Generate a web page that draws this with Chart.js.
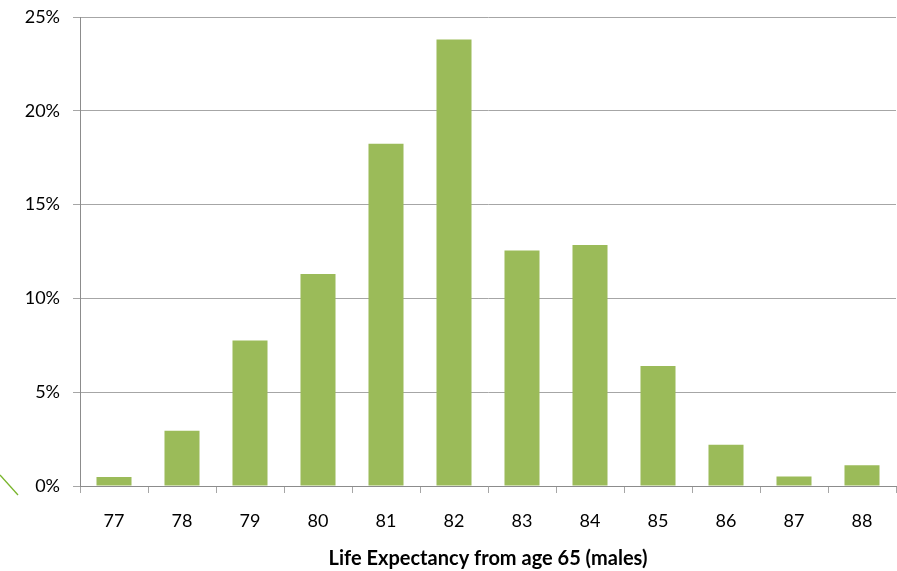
<!DOCTYPE html>
<html>
<head>
<meta charset="utf-8">
<script src="https://cdn.jsdelivr.net/npm/chart.js@4/dist/chart.umd.min.js"></script>
<style>
  html, body { margin: 0; padding: 0; background: #ffffff; }
  #wrap { width: 897px; height: 571px; position: relative; }
</style>
</head>
<body>
<div id="wrap"><canvas id="c" width="897" height="571"></canvas></div>
<script>
// Distribution of male life expectancy from age 65 (share of population, %)
const ages = ['77', '78', '79', '80', '81', '82', '83', '84', '85', '86', '87', '88'];
const shares = [0.48, 2.95, 7.75, 11.3, 18.25, 23.8, 12.55, 12.85, 6.4, 2.2, 0.5, 1.1];
const yTicks = [0, 5, 10, 15, 20, 25];
const xTitle = 'Life Expectancy from age 65 (males)';

const FONT = 'Lato, "Open Sans", "Liberation Sans", sans-serif';
const GRID = '#a6a6a6';

// Small green stroke at the lower-left edge of the canvas
const cornerStroke = {
  id: 'cornerStroke',
  afterDraw(chart) {
    const ctx = chart.ctx;
    ctx.save();
    ctx.strokeStyle = '#79b52c';
    ctx.lineWidth = 1.3;
    ctx.beginPath();
    ctx.moveTo(0, 475);
    ctx.lineTo(18, 495);
    ctx.stroke();
    ctx.restore();
  }
};

new Chart(document.getElementById('c'), {
  type: 'bar',
  data: {
    labels: ages,
    datasets: [{
      data: shares,
      backgroundColor: '#9bbb59',
      borderWidth: 0,
      barPercentage: 0.515,
      categoryPercentage: 1.0
    }]
  },
  options: {
    responsive: false,
    animation: false,
    devicePixelRatio: 1,
    layout: { autoPadding: false, padding: { top: 17, right: 1, left: 0, bottom: 0 } },
    plugins: {
      legend: { display: false },
      tooltip: { enabled: false }
    },
    scales: {
      x: {
        offset: true,
        grid: {
          offset: true,
          drawOnChartArea: false,
          drawTicks: true,
          tickLength: 7,
          color: GRID
        },
        border: { display: true, color: '#8c8c8c', width: 1 },
        ticks: {
          color: '#000000',
          font: { family: FONT, size: 18 },
          padding: 17,
          maxRotation: 0
        },
        title: {
          display: true,
          text: xTitle,
          color: '#000000',
          font: { family: FONT, size: 20, weight: 'bold' },
          padding: { top: 5, bottom: 0 }
        },
        afterFit(scale) {
          scale.height = 85;
          scale.paddingLeft = 0;
          scale.paddingRight = 0;
        }
      },
      y: {
        min: 0,
        max: 25,
        afterBuildTicks(scale) {
          scale.ticks = yTicks.map(v => ({ value: v }));
        },
        grid: {
          color: GRID,
          drawTicks: true,
          tickLength: 7
        },
        border: { display: true, color: '#8c8c8c', width: 1 },
        ticks: {
          color: '#000000',
          font: { family: FONT, size: 18 },
          padding: 13,
          callback: v => v + '%'
        },
        afterFit(scale) {
          scale.width = 80;
          scale.paddingTop = 0;
          scale.paddingBottom = 0;
        }
      }
    }
  },
  plugins: [cornerStroke]
});
</script>
</body>
</html>
